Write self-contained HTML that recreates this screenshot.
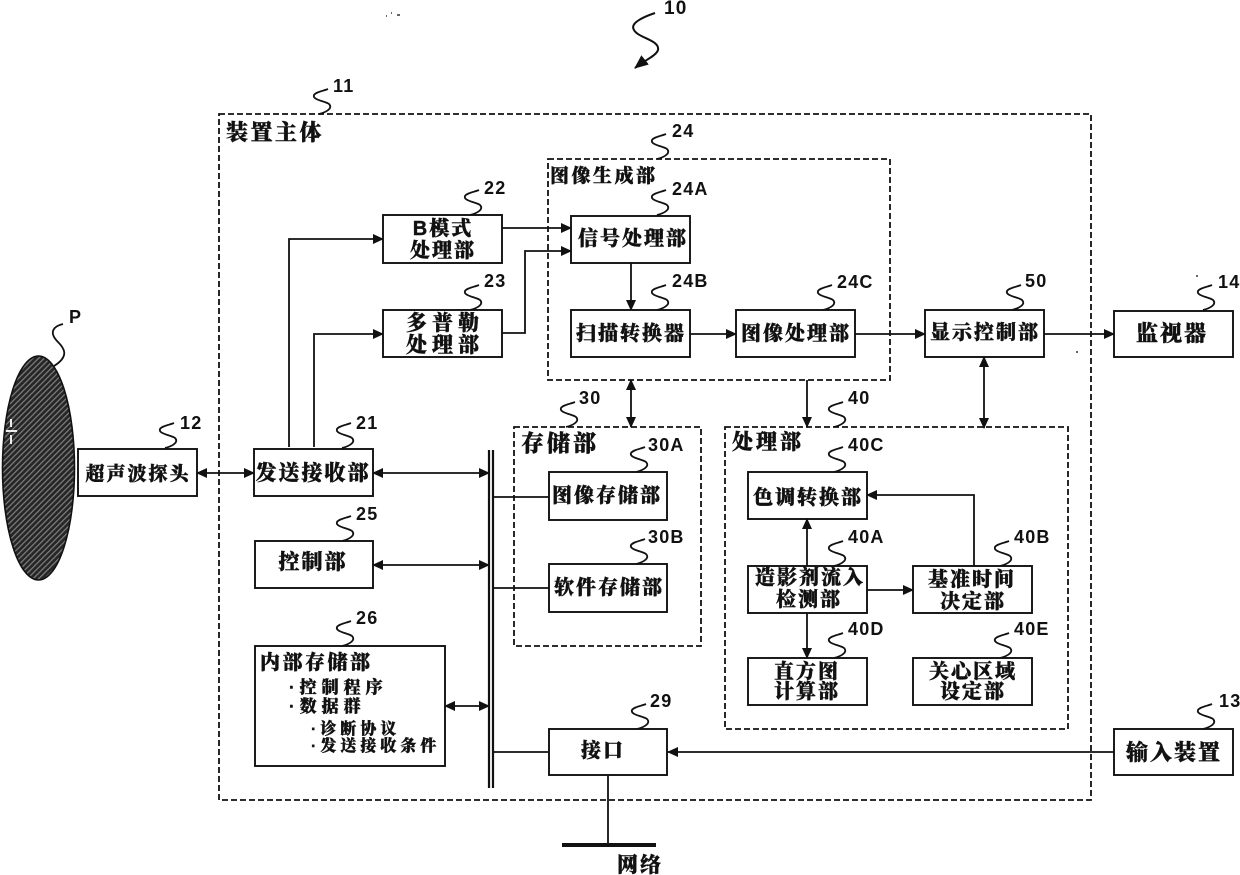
<!DOCTYPE html>
<html><head><meta charset="utf-8"><style>
html,body{margin:0;padding:0;background:#fff}
svg{display:block}
text{font-family:"Liberation Sans","Noto Serif CJK SC","Noto Sans CJK SC",sans-serif;font-weight:900;fill:#111;stroke:#111;stroke-width:.4}
.c{font-size:20px;letter-spacing:2px;text-anchor:middle}
.n{font-size:18px;font-weight:700;letter-spacing:1.2px;font-family:"Liberation Sans",sans-serif;stroke:none}
.b{fill:#fff;stroke:#111;stroke-width:1.9}
.d{fill:none;stroke:#111;stroke-width:1.8;stroke-dasharray:6 3}
.l{fill:none;stroke:#111;stroke-width:1.8}
.s{fill:none;stroke:#111;stroke-width:1.8}
</style></head><body>
<svg width="1240" height="875" viewBox="0 0 1240 875" xmlns="http://www.w3.org/2000/svg">
<defs>
<marker id="a" markerWidth="11" markerHeight="10" refX="10" refY="5" orient="auto-start-reverse" markerUnits="userSpaceOnUse"><path d="M0 0L11 5L0 10Z" fill="#111"/></marker>
<marker id="big" markerWidth="14" markerHeight="12" refX="13" refY="6" orient="auto" markerUnits="userSpaceOnUse"><path d="M0 0L14 6L0 12Z" fill="#111"/></marker>
<path id="q" d="M0 0C8 -2 14 -6 10 -10C6 -13 -7 -14 -5 -19C-3 -22 4 -23 9 -25" class="s"/>
<pattern id="h" width="4" height="4" patternUnits="userSpaceOnUse" patternTransform="rotate(-45)">
<rect width="4" height="4" fill="#262626"/><rect width="4" height="1.2" fill="#808080"/>
</pattern>
</defs>

<ellipse cx="38.5" cy="468" rx="36" ry="112" fill="url(#h)" stroke="#111" stroke-width="1.6"/>
<path d="M6 431h11M11 419v8M11 435v9" stroke="#eee" stroke-width="2"/>
<path d="M54 366C70 356 64 348 58 342C48 332 54 326 63 324" class="s"/>
<text x="69" y="323" class="n">P</text>

<rect class="d" x="219" y="114" width="872" height="686"/>
<rect class="d" x="548" y="159" width="342" height="221"/>
<rect class="d" x="514" y="427" width="187" height="219"/>
<rect class="d" x="725" y="427" width="343" height="302"/>

<!-- connectors -->
<path class="l" d="M289 447V239H383" marker-end="url(#a)"/>
<path class="l" d="M314 447V334H383" marker-end="url(#a)"/>
<path class="l" d="M502 228H571" marker-end="url(#a)"/>
<path class="l" d="M502 333H525V251H571" marker-end="url(#a)"/>
<path class="l" d="M631 263V310" marker-end="url(#a)"/>
<path class="l" d="M690 334H736" marker-end="url(#a)"/>
<path class="l" d="M855 334H925" marker-end="url(#a)"/>
<path class="l" d="M1044 334H1114" marker-end="url(#a)"/>
<path class="l" d="M631 380V427" marker-start="url(#a)" marker-end="url(#a)"/>
<path class="l" d="M807 380V427" marker-end="url(#a)"/>
<path class="l" d="M984 357V428" marker-start="url(#a)" marker-end="url(#a)"/>
<path class="l" d="M197 473H254" marker-start="url(#a)" marker-end="url(#a)"/>
<path class="l" d="M373 473H489" marker-start="url(#a)" marker-end="url(#a)"/>
<path class="l" d="M373 565H489" marker-start="url(#a)" marker-end="url(#a)"/>
<path class="l" d="M445 706H489" marker-start="url(#a)" marker-end="url(#a)"/>
<path class="l" d="M493 497H549"/>
<path class="l" d="M493 588H549"/>
<path class="l" d="M493 752H549"/>
<path class="l" d="M1114 752H668" marker-end="url(#a)"/>
<path class="l" d="M608 775V845"/>
<path d="M562 845H656" stroke="#111" stroke-width="4" fill="none"/>
<path d="M489 450V788M493 450V788" stroke="#111" stroke-width="2.2" fill="none"/>
<path class="l" d="M807 566V519" marker-end="url(#a)"/>
<path class="l" d="M867 590H913" marker-end="url(#a)"/>
<path class="l" d="M807 613V658" marker-end="url(#a)"/>
<path class="l" d="M974 566V495H867" marker-end="url(#a)"/>

<!-- boxes -->
<rect class="b" x="78" y="449" width="119" height="47"/>
<rect class="b" x="254" y="449" width="119" height="47"/>
<rect class="b" x="255" y="541" width="118" height="47"/>
<rect class="b" x="255" y="646" width="190" height="120"/>
<rect class="b" x="383" y="215" width="119" height="48"/>
<rect class="b" x="383" y="310" width="119" height="47"/>
<rect class="b" x="571" y="216" width="119" height="47"/>
<rect class="b" x="571" y="310" width="119" height="47"/>
<rect class="b" x="736" y="310" width="119" height="47"/>
<rect class="b" x="925" y="310" width="119" height="47"/>
<rect class="b" x="1114" y="311" width="119" height="46"/>
<rect class="b" x="549" y="472" width="118" height="48"/>
<rect class="b" x="549" y="564" width="118" height="48"/>
<rect class="b" x="549" y="729" width="118" height="46"/>
<rect class="b" x="748" y="472" width="119" height="47"/>
<rect class="b" x="748" y="566" width="119" height="47"/>
<rect class="b" x="913" y="566" width="119" height="47"/>
<rect class="b" x="748" y="658" width="119" height="47"/>
<rect class="b" x="913" y="658" width="119" height="47"/>
<rect class="b" x="1114" y="729" width="119" height="46"/>

<!-- box labels -->
<text x="138" y="480" class="c" style="font-size:19px">超声波探头</text>
<text x="313" y="480" class="c" style="font-size:21px">发送接收部</text>
<text x="313" y="569" class="c" style="font-size:21px">控制部</text>
<text x="443" y="235" class="c">B模式</text>
<text x="443" y="257" class="c">处理部</text>
<text x="445" y="330" class="c" style="font-size:21px;letter-spacing:5px">多普勒</text>
<text x="445" y="352" class="c" style="font-size:21px;letter-spacing:5px">处理部</text>
<text x="633" y="245" class="c">信号处理部</text>
<text x="631" y="340" class="c">扫描转换器</text>
<text x="796" y="340" class="c">图像处理部</text>
<text x="985" y="339" class="c">显示控制部</text>
<text x="1172" y="341" class="c" style="font-size:22px">监视器</text>
<text x="607" y="502" class="c">图像存储部</text>
<text x="609" y="594" class="c">软件存储部</text>
<text x="603" y="757" class="c">接口</text>
<text x="808" y="504" class="c">色调转换部</text>
<text x="810" y="584" class="c">造影剂流入</text>
<text x="809" y="606" class="c">检测部</text>
<text x="972" y="586" class="c">基准时间</text>
<text x="973" y="608" class="c">决定部</text>
<text x="807" y="678" class="c">直方图</text>
<text x="807" y="698" class="c">计算部</text>
<text x="973" y="678" class="c">关心区域</text>
<text x="973" y="698" class="c">设定部</text>
<text x="1174" y="760" class="c" style="font-size:22px">输入装置</text>
<text x="640" y="872" class="c" style="font-size:21px">网络</text>
<text x="226" y="140" style="font-size:22px;letter-spacing:2.5px">装置主体</text>
<text x="550" y="182" style="font-size:19px;letter-spacing:2.5px">图像生成部</text>
<text x="521" y="451" style="font-size:23px;letter-spacing:3px">存储部</text>
<text x="732" y="449" style="font-size:21px;letter-spacing:3px">处理部</text>
<text x="260" y="669" style="font-size:20px;letter-spacing:2.5px">内部存储部</text>
<text x="289" y="693" style="font-size:17px;letter-spacing:5px">·控制程序</text>
<text x="289" y="712" style="font-size:17px;letter-spacing:5px">·数据群</text>
<text x="311" y="734" style="font-size:16px;letter-spacing:4px">·诊断协议</text>
<text x="311" y="751" style="font-size:16px;letter-spacing:4px">·发送接收条件</text>

<!-- ref squiggles -->
<path d="M655 13C640 18 630 24 634 30C638 38 660 40 658 50C656 56 645 60 635 68" fill="none" stroke="#111" stroke-width="2" marker-end="url(#big)"/>
<text x="664" y="14" class="n" style="font-size:19px">10</text>
<use href="#q" x="319" y="114"/><text x="333" y="92" class="n">11</text>
<use href="#q" x="165" y="448"/><text x="180" y="429" class="n">12</text>
<use href="#q" x="1203" y="729"/><text x="1219" y="707" class="n">13</text>
<use href="#q" x="1203" y="310"/><text x="1218" y="288" class="n">14</text>
<use href="#q" x="342" y="448"/><text x="356" y="429" class="n">21</text>
<use href="#q" x="470" y="215"/><text x="484" y="194" class="n">22</text>
<use href="#q" x="470" y="310"/><text x="484" y="287" class="n">23</text>
<use href="#q" x="657" y="159"/><text x="672" y="137" class="n">24</text>
<use href="#q" x="657" y="215"/><text x="672" y="195" class="n">24A</text>
<use href="#q" x="657" y="310"/><text x="672" y="287" class="n">24B</text>
<use href="#q" x="823" y="310"/><text x="837" y="288" class="n">24C</text>
<use href="#q" x="342" y="541"/><text x="356" y="520" class="n">25</text>
<use href="#q" x="342" y="646"/><text x="356" y="624" class="n">26</text>
<use href="#q" x="637" y="729"/><text x="650" y="707" class="n">29</text>
<use href="#q" x="566" y="427"/><text x="579" y="404" class="n">30</text>
<use href="#q" x="636" y="472"/><text x="648" y="451" class="n">30A</text>
<use href="#q" x="636" y="564"/><text x="648" y="543" class="n">30B</text>
<use href="#q" x="834" y="427"/><text x="848" y="404" class="n">40</text>
<use href="#q" x="834" y="472"/><text x="848" y="451" class="n">40C</text>
<use href="#q" x="834" y="566"/><text x="848" y="543" class="n">40A</text>
<use href="#q" x="1000" y="566"/><text x="1014" y="543" class="n">40B</text>
<use href="#q" x="834" y="658"/><text x="848" y="635" class="n">40D</text>
<use href="#q" x="1000" y="658"/><text x="1014" y="635" class="n">40E</text>
<use href="#q" x="1012" y="310"/><text x="1025" y="287" class="n">50</text>
<path d="M386 16h1M391 13h1M397 15h3M1196 276h2M1076 352h2" stroke="#333" stroke-width="1.4"/>
</svg>
</body></html>
